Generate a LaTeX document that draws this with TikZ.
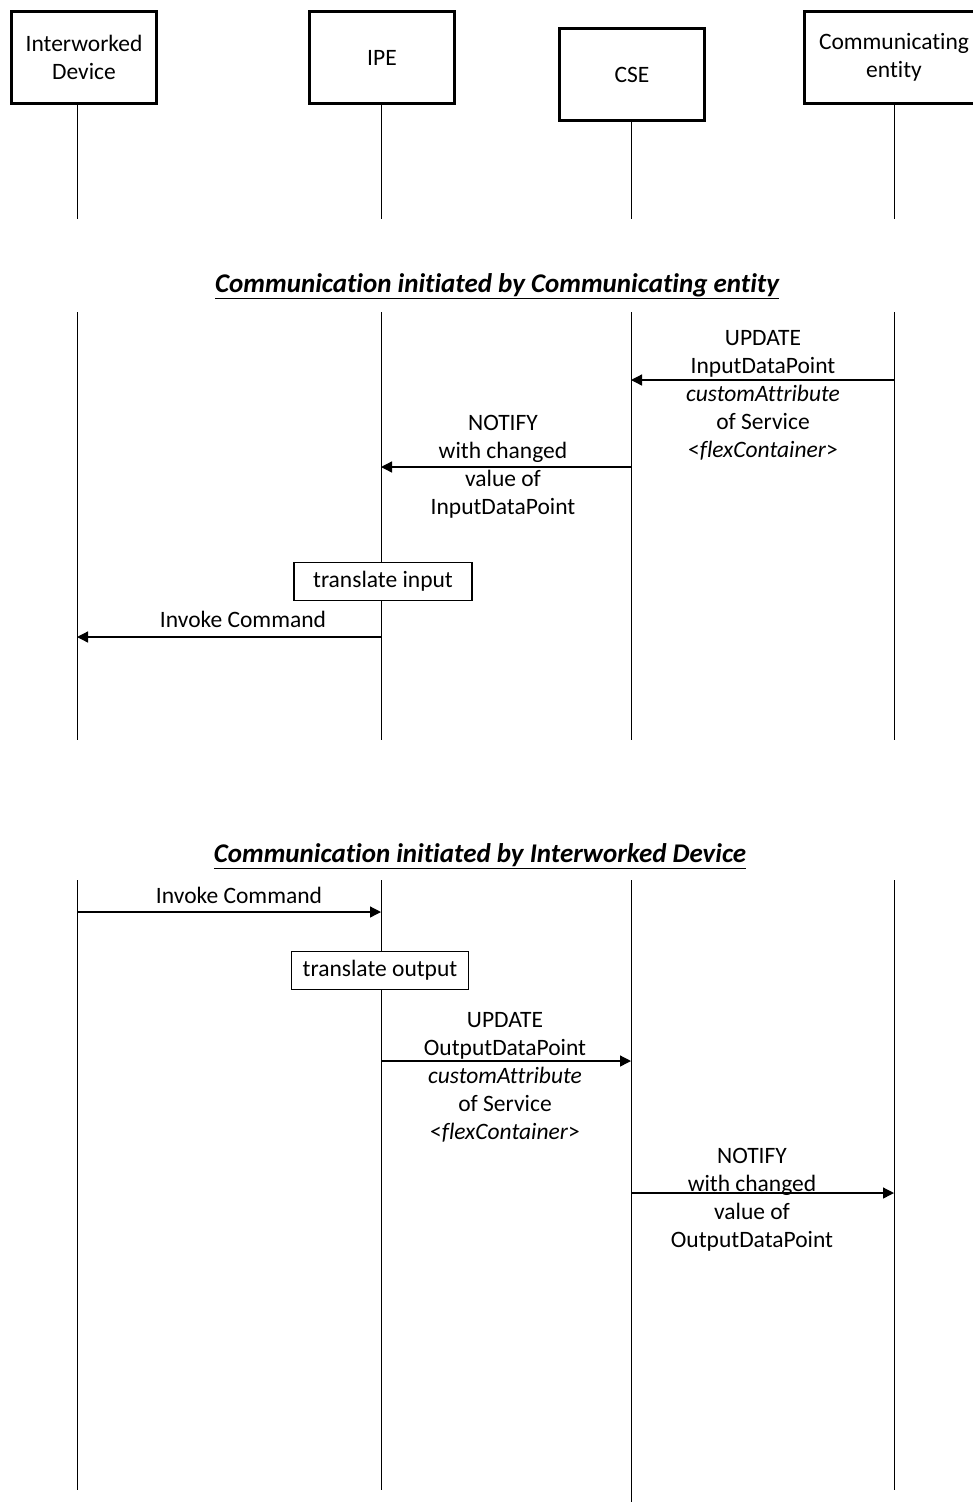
\documentclass[tikz,border=0pt]{standalone}
\usepackage{fontspec}
\setmainfont[Ligatures=NoCommon]{Carlito}
\usetikzlibrary{arrows.meta}

\tikzset{
	actor/.style={draw, line width=3pt, minimum height=92pt, align=center, font=\fontsize{23.5}{28}\selectfont},
	lifeline/.style={line width=1pt},
	msg/.style={line width=1.3pt, -{Triangle[length=11pt,width=11pt]}},
	lbl/.style={align=center, font=\fontsize{23.5}{28}\selectfont},
	action/.style={draw, fill=white, line width=1.2pt, minimum height=38pt, font=\fontsize{23.5}{28}\selectfont},
	phase/.style={font=\fontsize{27}{30}\selectfont\bfseries\itshape}
}

\begin{document}
\begin{tikzpicture}[x=1pt,y=-1pt]
	\useasboundingbox (0,0) rectangle (972,1502);
	\node[actor, minimum width=145pt] (dev) at (84,57.5) {Interworked\\Device};
	\node[actor, minimum width=145pt] (ipe) at (382,57.5) {IPE};
	\node[actor, minimum width=145pt] (cse) at (632,74.5) {CSE};
	\node[actor, minimum width=179pt] (ent) at (894,57.5) {Communicating\\entity};
	\coordinate (xdev) at (77,0);
	\coordinate (xipe) at (381,0);
	\coordinate (xcse) at (631,0);
	\coordinate (xent) at (894,0);
	\draw[lifeline] (dev.south -| xdev) -- (xdev |- 0,219);
	\draw[lifeline] (ipe.south -| xipe) -- (xipe |- 0,219);
	\draw[lifeline] (cse.south -| xcse) -- (xcse |- 0,219);
	\draw[lifeline] (ent.south -| xent) -- (xent |- 0,219);
	\foreach \c in {xdev,xipe,xcse,xent}
	{
		\draw[lifeline] (\c |- 0,312) -- (\c |- 0,740);
	}
	\foreach \c/\b in {xdev/1490,xipe/1490,xcse/1502,xent/1490}
	{
		\draw[lifeline] (\c |- 0,880) -- (\c |- 0,\b);
	}

	\node[phase] (ph1) at (497,286) {\underline{Communication initiated by Communicating entity}};
	\coordinate (m1) at (0,380);
	\coordinate (m2) at (0,467);
	\coordinate (m3) at (0,637);
	\draw[msg] (xent |- m1) -- (xcse |- m1);
	\node[lbl] (upd1) at (763,395) {UPDATE\\InputDataPoint\\\textit{customAttribute}\\of Service\\<\textit{flexContainer}>};
	\draw[msg] (xcse |- m2) -- (xipe |- m2);
	\node[lbl] (ntf1) at (503,467) {NOTIFY\\with changed\\value of\\InputDataPoint};
	\node[action, minimum width=178pt] (tin) at (383,581.5) {translate input};
	\draw[msg] (xipe |- m3) -- (xdev |- m3);
	\node[lbl] (inv1) at (243,619) {Invoke Command};

	\node[phase] (ph2) at (480,856) {\underline{Communication initiated by Interworked Device}};
	\coordinate (m4) at (0,912);
	\coordinate (m5) at (0,1061);
	\coordinate (m6) at (0,1193);
	\draw[msg] (xdev |- m4) -- (xipe |- m4);
	\node[lbl] (inv2) at (239,895) {Invoke Command};
	\node[action, minimum width=177pt] (tout) at (380,970.5) {translate output};
	\draw[msg] (xipe |- m5) -- (xcse |- m5);
	\node[lbl] (upd2) at (505,1077.5) {UPDATE\\OutputDataPoint\\\textit{customAttribute}\\of Service\\<\textit{flexContainer}>};
	\draw[msg] (xcse |- m6) -- (xent |- m6);
	\node[lbl] (ntf2) at (752,1199.5) {NOTIFY\\with changed\\value of\\OutputDataPoint};
\end{tikzpicture}
\end{document}
